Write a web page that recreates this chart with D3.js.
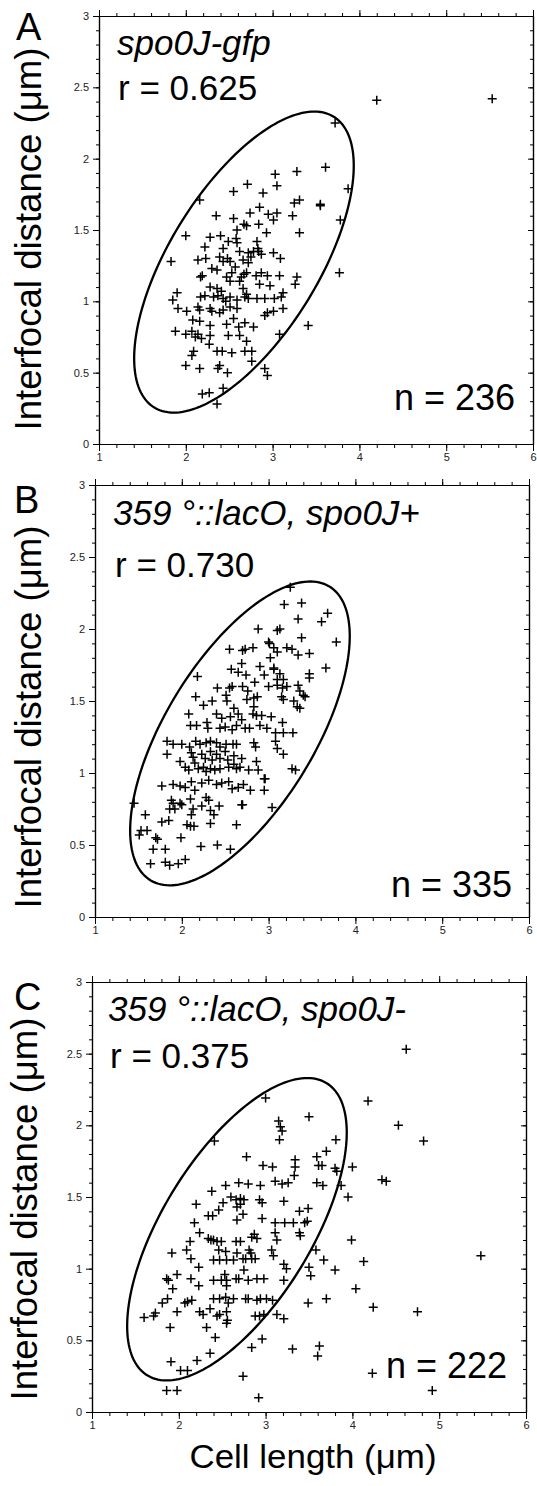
<!DOCTYPE html>
<meta charset="utf-8">
<style>
  body { margin: 0; background: #fff; }
  svg { display: block; }
  text { font-family: "Liberation Sans", Arial, Helvetica, sans-serif; }
  .axis .domain { stroke: #000; stroke-width: 1.2; }
  .axis line { stroke: #000; stroke-width: 1; }
  .axis text { font-size: 11px; fill: #222; }
  .pt { fill: none; stroke: #000; stroke-width: 1.5; }
  .ell { fill: none; stroke: #000; stroke-width: 2.3; }
</style>
<body>
<script src="https://d3js.org/d3.v7.min.js"></script>
<script>
// tick values
const xMajor = [1, 2, 3, 4, 5, 6];
const yMajor = [0, 0.5, 1, 1.5, 2, 2.5, 3];
const xMinor = d3.range(1, 6.001, 0.2);
const yMinor = d3.range(0, 3.001, 0.1);

// confidence ellipse: centre x, centre y, x half-range, y half-range, phase
const ellipse = [2.67, 1.275, 1.265, 1.055, Math.acos(0.64)];

// panel A: spo0J-gfp  (cell length, interfocal distance)
const ptsA = [[3.72,2.25],[3.61,1.94],[3.28,1.91],[3.03,1.89],[3.05,1.81],[2.71,1.82],[2.55,1.77],[2.89,1.76],[3.87,1.79],[2.16,1.71],[3.25,1.69],[3.31,1.71],[3.55,1.67],[3.55,1.68],[2.85,1.66],[2.74,1.62],[2.95,1.61],[3.05,1.62],[3.01,1.57],[3.23,1.60],[2.35,1.60],[2.55,1.58],[2.67,1.54],[2.70,1.53],[2.84,1.54],[3.78,1.57],[2.59,1.50],[2.93,1.48],[3.31,1.48],[2.00,1.46],[2.28,1.45],[2.40,1.46],[2.49,1.42],[2.58,1.44],[2.59,1.41],[2.22,1.38],[2.43,1.37],[2.82,1.42],[2.62,1.35],[2.72,1.34],[2.78,1.35],[2.84,1.35],[2.87,1.33],[2.75,1.31],[3.01,1.34],[3.09,1.30],[1.83,1.28],[2.14,1.29],[2.23,1.30],[2.39,1.31],[2.43,1.28],[2.30,1.23],[2.36,1.22],[2.51,1.28],[2.57,1.24],[2.66,1.29],[2.72,1.27],[2.70,1.20],[2.67,1.19],[2.81,1.18],[2.87,1.20],[2.94,1.18],[3.08,1.18],[2.17,1.17],[2.19,1.18],[2.47,1.17],[2.51,1.14],[2.62,1.14],[3.28,1.17],[3.26,1.12],[3.77,1.20],[2.85,1.12],[2.97,1.11],[2.28,1.10],[2.36,1.09],[2.41,1.07],[2.66,1.09],[2.17,1.03],[2.22,1.04],[2.32,1.03],[2.37,1.04],[2.43,1.02],[2.51,1.03],[2.59,1.01],[2.68,1.03],[2.72,1.02],[2.82,1.02],[2.91,1.02],[3.02,1.02],[3.10,1.03],[3.12,1.06],[1.90,1.06],[1.85,1.01],[1.91,0.95],[2.01,0.93],[2.14,0.96],[2.16,0.94],[2.28,0.95],[2.30,0.93],[2.39,0.92],[2.43,0.94],[2.51,0.96],[2.59,0.95],[2.91,0.90],[2.94,0.92],[3.01,0.93],[3.12,0.95],[2.08,0.87],[2.16,0.86],[2.28,0.83],[2.47,0.84],[2.55,0.88],[2.61,0.82],[2.68,0.85],[2.78,0.82],[3.41,0.83],[1.88,0.79],[2.00,0.77],[2.07,0.79],[2.11,0.75],[2.14,0.77],[2.18,0.74],[2.28,0.76],[2.27,0.70],[2.49,0.76],[2.62,0.76],[2.70,0.72],[3.08,0.77],[2.09,0.65],[2.07,0.62],[2.36,0.65],[2.42,0.65],[2.53,0.64],[2.68,0.65],[2.76,0.65],[2.76,0.58],[2.00,0.55],[2.16,0.53],[2.37,0.53],[2.39,0.55],[2.48,0.50],[2.91,0.53],[2.94,0.48],[2.19,0.35],[2.27,0.36],[2.43,0.39],[2.36,0.28],[4.20,2.41],[5.53,2.42],[2.48,1.30],[2.53,1.20],[2.64,1.17],[2.70,1.05],[2.46,1.00],[2.83,1.37]];

// panel B: 359::lacO, spo0J+
const ptsB = [[3.25,2.29],[3.18,2.17],[3.38,2.18],[3.34,2.07],[3.61,2.05],[3.68,2.11],[2.88,2.00],[3.10,1.99],[3.13,2.00],[3.38,1.94],[3.78,1.91],[3.00,1.91],[3.01,1.90],[2.55,1.86],[2.70,1.85],[2.73,1.86],[2.82,1.87],[3.06,1.87],[3.10,1.84],[3.21,1.87],[3.27,1.86],[3.34,1.82],[3.47,1.83],[3.02,1.80],[2.69,1.76],[2.57,1.72],[2.90,1.74],[3.06,1.73],[3.06,1.72],[2.18,1.67],[2.65,1.70],[2.74,1.68],[2.84,1.63],[2.95,1.68],[3.13,1.69],[3.17,1.65],[3.10,1.65],[3.47,1.69],[3.47,1.66],[3.66,1.73],[2.41,1.59],[2.55,1.59],[2.58,1.60],[2.70,1.60],[2.76,1.57],[3.00,1.60],[3.10,1.61],[3.16,1.59],[3.21,1.60],[3.34,1.61],[3.36,1.57],[3.40,1.54],[3.42,1.53],[2.16,1.53],[2.35,1.50],[2.25,1.47],[2.51,1.54],[2.52,1.50],[2.60,1.45],[2.75,1.51],[2.83,1.52],[2.83,1.46],[2.87,1.53],[3.15,1.53],[3.17,1.51],[3.29,1.50],[3.33,1.46],[3.36,1.45],[2.08,1.41],[2.40,1.41],[2.46,1.38],[2.56,1.39],[2.65,1.41],[2.69,1.37],[2.82,1.41],[2.86,1.40],[2.92,1.40],[3.03,1.39],[3.16,1.35],[2.10,1.33],[2.17,1.33],[2.29,1.35],[2.30,1.31],[2.44,1.31],[2.50,1.32],[2.58,1.30],[2.63,1.33],[2.73,1.31],[2.78,1.31],[2.90,1.33],[2.98,1.31],[3.08,1.28],[3.17,1.28],[3.28,1.28],[1.83,1.22],[1.90,1.20],[2.00,1.20],[2.09,1.18],[2.16,1.22],[2.21,1.20],[2.28,1.21],[2.33,1.22],[2.40,1.21],[2.44,1.18],[2.51,1.20],[2.59,1.20],[2.63,1.20],[2.83,1.21],[2.85,1.18],[3.08,1.22],[3.10,1.17],[1.83,1.13],[2.11,1.14],[2.13,1.11],[2.23,1.13],[2.27,1.10],[2.33,1.15],[2.35,1.09],[2.40,1.13],[2.44,1.10],[2.50,1.15],[2.53,1.09],[2.60,1.12],[2.69,1.10],[2.86,1.08],[3.17,1.13],[1.98,1.08],[2.04,1.04],[2.08,1.02],[2.15,1.07],[2.19,1.03],[2.25,1.04],[2.28,1.01],[2.33,1.03],[2.38,1.02],[2.44,1.03],[2.54,1.04],[2.60,1.06],[2.63,1.03],[2.67,1.04],[2.77,1.02],[2.88,1.02],[2.96,0.96],[3.27,1.03],[3.31,1.02],[1.77,0.91],[1.90,0.92],[1.98,0.91],[2.04,0.90],[2.11,0.94],[2.15,0.88],[2.23,0.93],[2.31,0.95],[2.40,0.92],[2.46,0.93],[2.54,0.94],[2.58,0.89],[2.65,0.90],[2.71,0.92],[2.79,0.88],[2.95,0.88],[2.95,0.96],[1.45,0.79],[1.58,0.71],[1.88,0.81],[1.90,0.79],[1.86,0.75],[1.92,0.75],[1.98,0.79],[2.00,0.78],[2.10,0.82],[2.13,0.75],[2.11,0.71],[2.23,0.77],[2.28,0.83],[2.31,0.81],[2.33,0.74],[2.43,0.77],[2.37,0.71],[2.69,0.78],[2.70,0.78],[3.04,0.76],[1.77,0.66],[1.85,0.67],[2.06,0.64],[2.10,0.63],[2.14,0.63],[2.33,0.65],[2.63,0.64],[1.53,0.60],[1.51,0.57],[1.60,0.60],[1.70,0.55],[1.72,0.54],[1.99,0.55],[1.67,0.47],[1.81,0.47],[2.22,0.49],[2.41,0.50],[2.56,0.47],[1.64,0.37],[1.81,0.38],[1.86,0.36],[1.96,0.37],[2.04,0.40]];

// panel C: 359::lacO, spo0J-
const ptsC = [[4.62,2.53],[3.00,2.19],[4.18,2.17],[3.50,2.06],[4.53,2.00],[3.15,2.03],[3.17,1.99],[3.19,1.96],[3.16,1.90],[2.41,1.89],[4.82,1.89],[3.81,1.90],[3.70,1.82],[3.59,1.78],[3.61,1.72],[3.65,1.72],[2.78,1.78],[3.34,1.76],[3.34,1.71],[3.33,1.65],[2.97,1.72],[3.08,1.71],[3.80,1.70],[3.82,1.68],[4.00,1.71],[4.34,1.62],[4.39,1.61],[2.54,1.58],[2.69,1.60],[2.80,1.59],[2.94,1.58],[3.11,1.61],[3.19,1.59],[3.26,1.60],[3.59,1.60],[3.66,1.58],[3.87,1.58],[2.38,1.54],[3.95,1.50],[2.20,1.45],[2.51,1.46],[2.60,1.50],[2.66,1.48],[2.71,1.49],[2.75,1.48],[2.67,1.43],[2.71,1.45],[2.93,1.48],[2.96,1.46],[3.21,1.47],[2.34,1.37],[2.39,1.37],[2.46,1.41],[2.67,1.34],[2.74,1.38],[2.96,1.35],[3.39,1.40],[3.49,1.42],[2.18,1.32],[3.11,1.32],[3.22,1.32],[3.32,1.32],[3.45,1.32],[3.48,1.33],[2.24,1.25],[2.13,1.19],[2.34,1.21],[2.37,1.20],[2.40,1.20],[2.44,1.19],[2.49,1.19],[2.66,1.19],[2.71,1.19],[2.84,1.22],[2.87,1.24],[2.90,1.21],[3.11,1.25],[3.13,1.20],[3.39,1.25],[3.40,1.23],[3.99,1.20],[1.92,1.11],[2.09,1.13],[2.14,1.07],[2.46,1.13],[2.54,1.12],[2.67,1.11],[2.81,1.13],[2.83,1.11],[3.07,1.13],[3.09,1.09],[3.58,1.13],[3.67,1.06],[4.13,1.05],[5.48,1.09],[2.23,1.01],[2.40,1.06],[2.47,1.06],[2.55,1.06],[2.63,1.06],[2.74,1.07],[2.77,1.07],[2.75,0.99],[2.84,1.07],[2.88,1.07],[3.21,1.03],[3.24,1.00],[3.50,1.01],[3.52,0.95],[3.80,0.99],[1.86,0.93],[1.88,0.92],[1.98,0.96],[1.93,0.86],[2.14,0.93],[2.23,0.88],[2.40,0.92],[2.49,0.92],[2.53,0.96],[2.55,0.92],[2.55,0.88],[2.66,0.93],[2.69,0.93],[2.80,0.92],[2.90,0.93],[2.98,0.93],[3.21,0.92],[4.04,0.86],[1.81,0.76],[1.87,0.79],[2.07,0.76],[2.10,0.77],[2.15,0.78],[2.40,0.79],[2.47,0.79],[2.54,0.80],[2.57,0.76],[2.63,0.79],[2.77,0.79],[2.80,0.79],[2.90,0.78],[2.94,0.79],[3.01,0.79],[3.08,0.78],[3.49,0.76],[3.70,0.79],[4.24,0.73],[4.75,0.70],[1.60,0.66],[1.71,0.67],[1.73,0.69],[1.98,0.70],[2.24,0.70],[2.28,0.68],[2.36,0.72],[2.44,0.67],[2.47,0.68],[2.55,0.70],[2.56,0.64],[2.55,0.62],[2.88,0.67],[2.93,0.67],[2.98,0.68],[3.13,0.68],[3.21,0.65],[1.90,0.59],[2.32,0.59],[2.42,0.52],[2.96,0.51],[2.84,0.45],[3.31,0.44],[3.62,0.46],[3.60,0.39],[2.36,0.41],[2.21,0.36],[1.91,0.35],[2.02,0.29],[2.10,0.29],[2.74,0.25],[4.23,0.27],[1.86,0.15],[1.98,0.15],[4.92,0.15],[2.92,0.10]];

// text
const letters = ["A", "B", "C"];
const strains = ["spo0J-gfp", "359 \u00b0::lacO, spo0J+", "359 \u00b0::lacO, spo0J-"];
const rText = ["r = 0.625", "r = 0.730", "r = 0.375"];
const nText = ["n = 236", "n = 335", "n = 222"];
const yTitle = "Interfocal distance (\u03bcm)";
const xTitle = "Cell length (\u03bcm)";

// page layout of the three panels (left, right, top, bottom) and label spots
const boxes = [[99, 533, 16, 444], [95, 529, 485, 917], [92, 526, 982, 1412]];
const letterPos = [[16, 40], [14, 513], [14, 1010]];
const strainPos = [[117, 55], [113, 525], [108, 1021]];
const rPos = [[118, 100], [115, 577], [110, 1068]];
const nPos = [[515, 410], [512, 897], [507, 1378]];
const yTitlePos = [[41, 239], [41, 717], [37, 1209]];

const W = 537, H = 1486;
const svg = d3.select("body").append("svg")
    .attr("width", W)
    .attr("height", H);

function drawPanel(i, pts) {
    let b = boxes[i];
    let x = d3.scaleLinear().domain([1, 6]).range([b[0], b[1]]);
    let y = d3.scaleLinear().domain([0, 3]).range([b[3], b[2]]);
    let g = svg.append("g");

    // minor ticks first, then major ones with labels
    g.append("g").attr("class", "axis")
        .attr("transform", "translate(0," + b[3] + ")")
        .call(d3.axisBottom(x).tickValues(xMinor).tickSize(4).tickSizeOuter(0).tickFormat(""));
    g.append("g").attr("class", "axis")
        .attr("transform", "translate(0," + b[3] + ")")
        .call(d3.axisBottom(x).tickValues(xMajor).tickSize(7).tickSizeOuter(0).tickPadding(2).tickFormat(d => d));

    g.append("g").attr("class", "axis")
        .attr("transform", "translate(0," + b[2] + ")")
        .call(d3.axisTop(x).tickValues(xMinor).tickSize(3).tickSizeOuter(0).tickFormat(""));
    g.append("g").attr("class", "axis")
        .attr("transform", "translate(0," + b[2] + ")")
        .call(d3.axisTop(x).tickValues(xMajor).tickSize(6).tickSizeOuter(0).tickFormat(""));

    g.append("g").attr("class", "axis")
        .attr("transform", "translate(" + b[0] + ",0)")
        .call(d3.axisLeft(y).tickValues(yMinor).tickSize(3).tickSizeOuter(0).tickFormat(""));
    g.append("g").attr("class", "axis")
        .attr("transform", "translate(" + b[0] + ",0)")
        .call(d3.axisLeft(y).tickValues(yMajor).tickSize(6).tickSizeOuter(0).tickPadding(4).tickFormat(d => d));

    g.append("g").attr("class", "axis")
        .attr("transform", "translate(" + b[1] + ",0)")
        .call(d3.axisRight(y).tickValues(yMinor).tickSize(-3).tickSizeOuter(0).tickFormat(""));
    g.append("g").attr("class", "axis")
        .attr("transform", "translate(" + b[1] + ",0)")
        .call(d3.axisRight(y).tickValues(yMajor).tickSize(-5).tickSizeOuter(0).tickFormat(""));

    // ellipse
    let e = ellipse;
    let ring = d3.range(0, 2 * Math.PI + 0.01, Math.PI / 90).map(t => [
        e[0] + e[2] * Math.cos(t),
        e[1] + e[3] * Math.cos(t - e[4])
    ]);
    g.append("path")
        .datum(ring)
        .attr("class", "ell")
        .attr("d", d3.line().x(d => x(d[0])).y(d => y(d[1])).curve(d3.curveLinearClosed));

    // points as plus marks
    g.selectAll(".pt")
        .data(pts)
        .join("path")
        .attr("class", "pt")
        .attr("d", "M-4.5,0H4.5M0,-4.5V4.5")
        .attr("transform", d => "translate(" + x(d[0]) + "," + y(d[1]) + ")");

    // labels
    g.append("text")
        .attr("x", letterPos[i][0]).attr("y", letterPos[i][1])
        .style("font-size", "38px")
        .text(letters[i]);
    g.append("text")
        .attr("x", strainPos[i][0]).attr("y", strainPos[i][1])
        .style("font-size", "35px").style("font-style", "italic")
        .text(strains[i]);
    g.append("text")
        .attr("x", rPos[i][0]).attr("y", rPos[i][1])
        .style("font-size", "35px")
        .text(rText[i]);
    g.append("text")
        .attr("x", nPos[i][0]).attr("y", nPos[i][1])
        .style("font-size", "36px").style("text-anchor", "end")
        .text(nText[i]);
    g.append("text")
        .attr("transform", "translate(" + yTitlePos[i][0] + "," + yTitlePos[i][1] + ") rotate(-90)")
        .style("font-size", "36px").style("text-anchor", "middle")
        .attr("textLength", 383).attr("lengthAdjust", "spacingAndGlyphs")
        .text(yTitle);
}

drawPanel(0, ptsA);
drawPanel(1, ptsB);
drawPanel(2, ptsC);

svg.append("text")
    .attr("x", 313).attr("y", 1468)
    .style("font-size", "34px").style("text-anchor", "middle")
    .attr("textLength", 247).attr("lengthAdjust", "spacingAndGlyphs")
    .text(xTitle);
</script>
</body>
